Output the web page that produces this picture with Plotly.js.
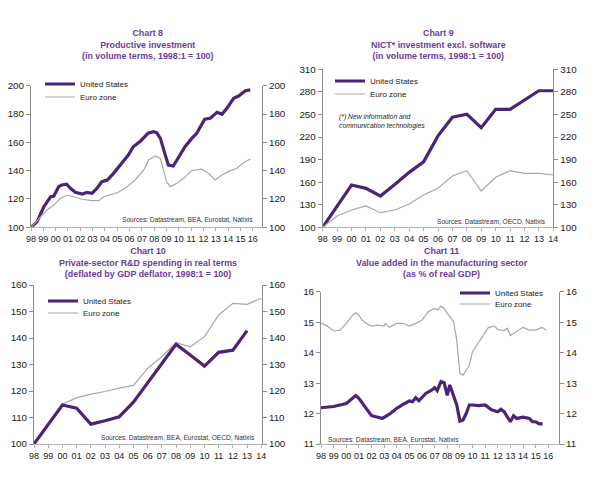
<!DOCTYPE html>
<html>
<head>
<meta charset="utf-8">
<script src="https://cdn.plot.ly/plotly-3.0.1.min.js"></script>
<style>
html,body{margin:0;padding:0;background:#fff;}
#chart{width:600px;height:484px;}
</style>
</head>
<body>
<div id="chart"></div>
<script>
// ---------- DATA ----------
// Chart 8: Productive investment (volume, 1998:1 = 100)
const ch8UsX = [1998,1998.5,1999.04,1999.6,1999.85,2000.25,2000.5,2000.9,2001.2,2001.6,2002.15,2002.55,2002.95,2003.35,2003.75,2004.2,2004.7,2005.25,2005.9,2006.3,2006.85,2007.5,2007.95,2008.2,2008.5,2008.9,2009.15,2009.55,2009.95,2010.5,2011.05,2011.45,2012.1,2012.55,2013.1,2013.5,2013.9,2014.45,2014.85,2015.4,2015.8];
const ch8UsY = [100,104,114.5,121.6,122.1,128.7,129.9,130.4,127.5,124.7,123.5,124.7,124,127.5,132.2,133.4,138.1,144,151,156.9,160.5,166.4,167.5,166.8,162.8,151,144,143.3,148.7,156.9,162.8,166.4,176.3,177,181.2,179.8,184,191.1,192.7,196.5,197];
const ch8EzX = [1998,1998.77,1999.3,1999.85,2000.4,2000.95,2001.5,2002.15,2002.95,2003.5,2003.9,2004.45,2005.1,2005.8,2006.45,2007.15,2007.55,2008.1,2008.5,2008.75,2009.0,2009.3,2009.85,2010.4,2011.05,2011.85,2012.4,2012.95,2013.5,2014.0,2014.7,2015.2,2015.8];
const ch8EzY = [100,107.5,112.2,115.7,120.5,122.8,121.2,119.8,118.8,118.8,121.6,122.8,124.7,128.7,133.4,140.5,147.5,150.4,148.7,140.5,132.2,128.7,131.1,134.6,140,141,138.1,133.4,136.9,139.3,141.7,145.2,148.2];

// Chart 9: NICT investment excl. software (annual)
const ch9Years = [1998,1999,2000,2001,2002,2003,2004,2005,2006,2007,2008,2009,2010,2011,2012,2013,2014];
const ch9Us = [100,128,156.2,151.8,141.6,157,173,187,221.5,246.2,250.4,232.4,256.8,256.8,269.5,281.5,281.5];
const ch9Ez = [100,115,123,128.3,119.4,123,131,143,152,168.2,175.2,148.2,166.5,175.2,171.8,171.8,169.5];

// Chart 10: Private-sector R&D spending in real terms (annual)
const ch10UsYears = [1998,1999,2000,2001,2002,2003,2004,2005,2006,2007,2008,2009,2010,2011,2012,2013];
const ch10Us = [100,107.4,114.7,113.5,107.5,108.8,110.3,115.8,122.9,130.4,137.6,133.6,129.4,134.6,135.4,142.8];
const ch10EzYears = [1998,1999,2000,2001,2002,2003,2004,2005,2006,2007,2008,2009,2010,2011,2012,2013,2014];
const ch10Ez = [100,107.6,115.1,117.4,118.8,119.8,121.1,122.1,128.5,133,138.2,136.7,140.5,148.7,153.1,152.7,155];

// Chart 11: Value added in manufacturing (% of real GDP)
const ch11UsX = [1998,1999,2000,2000.5,2000.75,2001,2001.5,2002,2002.5,2002.85,2003.5,2004,2004.5,2005,2005.25,2005.5,2005.75,2006,2006.3,2006.7,2007,2007.2,2007.5,2007.75,2008,2008.2,2008.5,2008.75,2009,2009.25,2009.5,2009.75,2010,2010.5,2011,2011.5,2012,2012.25,2012.5,2013,2013.25,2013.5,2014,2014.5,2014.75,2015,2015.3,2015.55];
const ch11UsY = [12.19,12.23,12.33,12.5,12.59,12.5,12.23,11.93,11.88,11.84,12.0,12.17,12.3,12.41,12.39,12.52,12.42,12.53,12.66,12.75,12.85,12.75,13.05,13.01,12.6,12.94,12.55,12.28,11.75,11.79,12.0,12.28,12.28,12.26,12.28,12.12,12.06,12.14,12.06,11.73,11.93,11.84,11.88,11.84,11.73,11.73,11.66,11.66];
const ch11EzX = [1998,1998.5,1999,1999.5,2000,2000.5,2000.75,2001,2001.25,2001.5,2002,2002.5,2003,2003.1,2003.4,2004,2004.5,2005,2005.5,2006,2006.5,2007,2007.25,2007.5,2007.75,2008,2008.5,2008.75,2009,2009.25,2009.5,2009.75,2010,2010.5,2011,2011.25,2011.75,2012,2012.5,2012.75,2013,2013.5,2014,2014.5,2015,2015.5,2015.85];
const ch11EzY = [14.98,14.87,14.71,14.74,14.96,15.23,15.31,15.23,15.07,14.98,14.87,14.9,14.87,14.96,14.83,14.96,14.96,14.87,14.96,15.07,15.34,15.45,15.4,15.53,15.45,15.29,15.02,14.41,13.32,13.26,13.43,13.59,14.03,14.36,14.65,14.82,14.87,14.76,14.72,14.8,14.56,14.69,14.83,14.74,14.74,14.83,14.74];

// Tick values / labels
const yearsLong = [1998,1999,2000,2001,2002,2003,2004,2005,2006,2007,2008,2009,2010,2011,2012,2013,2014,2015,2016];
const yearLabelsLong = ['98','99','00','01','02','03','04','05','06','07','08','09','10','11','12','13','14','15','16'];
const yearsShort = yearsLong.slice(0,17);
const yearLabelsShort = yearLabelsLong.slice(0,17);
const ch8Ticks = [100,120,140,160,180,200];
const ch9Ticks = [100,130,160,190,220,250,280,310];
const ch10Ticks = [100,110,120,130,140,150,160];
const ch11Ticks = [11,12,13,14,15,16];

const seriesNames = ['United States','Euro zone'];
const titles = [
  'Chart 8<br>Productive investment<br>(in volume terms, 1998:1 = 100)',
  'Chart 9<br>NICT* investment excl. software<br>(in volume terms, 1998:1 = 100)',
  'Chart 10<br>Private-sector R&D spending in real terms<br>(deflated by GDP deflator, 1998:1 = 100)',
  'Chart 11<br>Value added in the manufacturing sector<br>(as % of real GDP)'
];
const sources = [
  'Sources: Datastream, BEA, Eurostat, Natixis',
  'Sources: Datastream, OECD, Natixis',
  'Sources: Datastream, BEA, Eurostat, OECD, Natixis',
  'Sources: Datastream, BEA, Eurostat, Natixis'
];
const note9 = '(*) New information and<br>communication technologies';

// ---------- STYLE ----------
const W = 600, H = 484;
const FONT = 'Liberation Sans, Arial, sans-serif';
const US_COLOR = '#4b2475';
const EZ_COLOR = '#a8a8a8';
const TITLE_COLOR = '#6b3d98';
const AX_COLOR = '#8c8c8c';
const px = v => v / W;
const py = v => 1 - v / H;

function usTrace(x, y, xa, ya, lg) {
  return {x, y, xaxis: xa, yaxis: ya, type: 'scatter', mode: 'lines', name: seriesNames[0],
    legend: lg, line: {color: US_COLOR, width: 3.2}, hoverinfo: 'skip'};
}
function ezTrace(x, y, xa, ya, lg) {
  return {x, y, xaxis: xa, yaxis: ya, type: 'scatter', mode: 'lines', name: seriesNames[1],
    legend: lg, line: {color: EZ_COLOR, width: 1.2}, hoverinfo: 'skip'};
}
function ghost(x, y, xa, ya) {
  return {x, y, xaxis: xa, yaxis: ya, type: 'scatter', mode: 'lines', showlegend: false,
    opacity: 0, line: {width: 0}, hoverinfo: 'skip'};
}

const data = [
  usTrace(ch8UsX, ch8UsY, 'x', 'y', 'legend'),
  ezTrace(ch8EzX, ch8EzY, 'x', 'y', 'legend2'),
  ghost(ch8UsX, ch8UsY, 'x', 'y5'),
  usTrace(ch9Years, ch9Us, 'x2', 'y2', 'legend3'),
  ezTrace(ch9Years, ch9Ez, 'x2', 'y2', 'legend4'),
  ghost(ch9Years, ch9Us, 'x2', 'y6'),
  ezTrace(ch10EzYears, ch10Ez, 'x3', 'y3', 'legend6'),
  usTrace(ch10UsYears, ch10Us, 'x3', 'y3', 'legend5'),
  ghost(ch10UsYears, ch10Us, 'x3', 'y7'),
  usTrace(ch11UsX, ch11UsY, 'x4', 'y4', 'legend7'),
  ezTrace(ch11EzX, ch11EzY, 'x4', 'y4', 'legend8'),
  ghost(ch11UsX, ch11UsY, 'x4', 'y8')
];

function xAxis(domain, range, vals, labels, anchor) {
  return {domain, range, anchor, tickvals: vals, ticktext: labels, showgrid: false, zeroline: false,
    showline: true, linecolor: '#b0b0b0', linewidth: 1, ticks: 'outside', ticklen: 3, tickcolor: '#b0b0b0',
    tickfont: {family: FONT, size: 9, color: '#222'}, fixedrange: true};
}
function yAxis(domain, range, vals, anchor, side, overlaying) {
  const a = {domain, range, anchor, side, tickvals: vals, showgrid: false, zeroline: false,
    showline: true, linecolor: AX_COLOR, linewidth: 1, ticks: 'outside', ticklen: 4, tickcolor: AX_COLOR,
    tickfont: {family: FONT, size: 9.8, color: '#222'}, fixedrange: true};
  if (overlaying) { a.overlaying = overlaying; delete a.domain; }
  return a;
}

const d8x = [px(31), px(262)], d8y = [py(227.3), py(85.7)];
const d9x = [px(322.7), px(553.3)], d9y = [py(227.3), py(69.3)];
const d10x = [px(34), px(262)], d10y = [py(444), py(285)];
const d11x = [px(321), px(559)], d11y = [py(444), py(291.7)];

function legendAt(textX, yc) {
  return {x: px(textX - 40), y: py(yc), xanchor: 'left', yanchor: 'middle', bgcolor: 'rgba(0,0,0,0)',
    borderwidth: 0, font: {family: FONT, size: 8, color: '#222'}, itemclick: false, itemdoubleclick: false};
}

function titleAnn(text, xc, yc) {
  return {text: '<b>' + text + '</b>', xref: 'paper', yref: 'paper', x: px(xc), y: py(yc),
    xanchor: 'center', yanchor: 'middle', showarrow: false, align: 'center',
    font: {family: FONT, size: 8.9, color: TITLE_COLOR}};
}
function srcAnn(text, x, yc, anchor) {
  return {text, xref: 'paper', yref: 'paper', x: px(x), y: py(yc), xanchor: anchor, yanchor: 'middle',
    showarrow: false, font: {family: FONT, size: 6.6, color: '#333'}};
}

const layout = {
  width: W, height: H, margin: {l: 0, r: 0, t: 0, b: 0},
  paper_bgcolor: '#fff', plot_bgcolor: 'rgba(0,0,0,0)',
  font: {family: FONT, color: '#222'},
  xaxis: xAxis(d8x, [1998, 2016.75], yearsLong, yearLabelsLong, 'y'),
  xaxis2: xAxis(d9x, [1998, 2014], yearsShort, yearLabelsShort, 'y2'),
  xaxis3: xAxis(d10x, [1998, 2014.05], yearsShort, yearLabelsShort, 'y3'),
  xaxis4: xAxis(d11x, [1998, 2016.85], yearsLong, yearLabelsLong, 'y4'),
  yaxis: yAxis(d8y, [100, 200], ch8Ticks, 'x', 'left'),
  yaxis2: yAxis(d9y, [100, 310], ch9Ticks, 'x2', 'left'),
  yaxis3: yAxis(d10y, [100, 160], ch10Ticks, 'x3', 'left'),
  yaxis4: yAxis(d11y, [11, 16], ch11Ticks, 'x4', 'left'),
  yaxis5: yAxis(d8y, [100, 200], ch8Ticks, 'x', 'right', 'y'),
  yaxis6: yAxis(d9y, [100, 310], ch9Ticks, 'x2', 'right', 'y2'),
  yaxis7: yAxis(d10y, [100, 160], ch10Ticks, 'x3', 'right', 'y3'),
  yaxis8: yAxis(d11y, [11, 16], ch11Ticks, 'x4', 'right', 'y4'),
  showlegend: true,
  legend: legendAt(80, 84),
  legend2: legendAt(80, 97),
  legend3: legendAt(370, 81),
  legend4: legendAt(370, 94),
  legend5: legendAt(83, 301),
  legend6: legendAt(83, 313),
  legend7: legendAt(495, 293),
  legend8: legendAt(495, 304),
  annotations: [
    titleAnn(titles[0], 148, 44.5),
    titleAnn(titles[1], 438, 44.5),
    titleAnn(titles[2], 148, 262.5),
    titleAnn(titles[3], 442, 262.5),
    srcAnn(sources[0], 255, 219, 'right'),
    srcAnn(sources[1], 548, 221, 'right'),
    srcAnn(sources[2], 257, 437, 'right'),
    srcAnn(sources[3], 326, 439, 'left'),
    {text: '<i>' + note9 + '</i>', xref: 'paper', yref: 'paper', x: px(337), y: py(121),
      xanchor: 'left', yanchor: 'middle', align: 'left', showarrow: false,
      font: {family: FONT, size: 6.8, color: '#222'}}
  ]
};

Plotly.newPlot('chart', data, layout, {staticPlot: true, displayModeBar: false});
</script>
</body>
</html>
